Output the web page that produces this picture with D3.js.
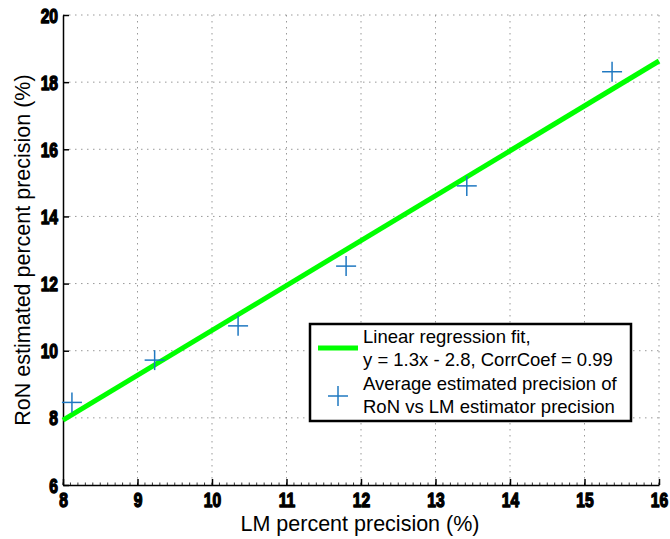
<!DOCTYPE html>
<html><head><meta charset="utf-8">
<script src="https://cdn.jsdelivr.net/npm/d3@7"></script>
<style>
body{margin:0;background:#fff;}
</style></head>
<body><svg id="c" width="670" height="539"></svg>
<script>
const lmPrecision = [8.12, 9.23, 10.35, 11.80, 13.42, 15.37];
const ronPrecision = [8.46, 9.72, 10.74, 12.52, 14.91, 18.31];
const fitX = [8, 16];
const fitY = [7.93, 18.63];
const xTicks = [8, 9, 10, 11, 12, 13, 14, 15, 16];
const yTicks = [6, 8, 10, 12, 14, 16, 18, 20];
const legendLabels = [["Linear regression fit,", "y = 1.3x - 2.8, CorrCoef = 0.99"],
                      ["Average estimated precision of", "RoN vs LM estimator precision"]];

const svg = d3.select("#c");
const L = 63, R = 659, T = 15, B = 485;
const x = d3.scaleLinear().domain([8, 16]).range([L, R]);
const y = d3.scaleLinear().domain([6, 20]).range([B, T]);
const tickFont = "Liberation Sans, Arial, sans-serif";
const sx = 0.8;

// grid
const grid = svg.append("g");
grid.selectAll("line.v").data(xTicks.slice(1)).join("line")
  .attr("x1", d => x(d)).attr("x2", d => x(d)).attr("y1", T).attr("y2", B)
  .attr("stroke", "#999").attr("stroke-dasharray", "1.5,4.5").attr("stroke-width", 1);
grid.selectAll("line.h").data(yTicks.slice(1)).join("line")
  .attr("y1", d => y(d)).attr("y2", d => y(d)).attr("x1", L).attr("x2", R)
  .attr("stroke", "#999").attr("stroke-dasharray", "1.5,4.5").attr("stroke-width", 1);

// minor ticks on x axis
const minor = d3.range(8, 16.001, 0.1);
svg.append("g").selectAll("line").data(minor).join("line")
  .attr("x1", d => x(d)).attr("x2", d => x(d)).attr("y1", B).attr("y2", B - 2.5)
  .attr("stroke", "#000").attr("stroke-width", 0.8);

// axes
const xAxis = d3.axisBottom(x).tickValues(xTicks).tickFormat(d3.format("d")).tickSizeInner(-6).tickSizeOuter(0);
const gx = svg.append("g").attr("transform", `translate(0,${B})`).call(xAxis);
const yAxis = d3.axisLeft(y).tickValues(yTicks).tickFormat(d3.format("d")).tickSizeInner(-6).tickSizeOuter(0);
const gy = svg.append("g").attr("transform", `translate(${L},0)`).call(yAxis);
[gx, gy].forEach(g => {
  g.select(".domain").attr("stroke", "#000").attr("stroke-width", 1.5);
  g.selectAll(".tick line").attr("stroke", "#000").attr("stroke-width", 1.5);
  g.selectAll(".tick text").attr("font-size", 19.5).attr("fill", "#000")
    .attr("font-family", tickFont).attr("font-weight", "bold")
    .attr("stroke", "#000").attr("stroke-width", 1.4).attr("stroke-linejoin", "round");
});
gx.selectAll(".tick text").attr("x", 0).attr("y", 22).attr("dy", null)
  .attr("transform", `scale(${sx},1)`);
gy.selectAll(".tick text").attr("x", -5 / sx).attr("dy", "0.36em")
  .attr("transform", `scale(${sx},1)`);

// fit line
svg.append("path").datum(fitX.map((d, i) => [d, fitY[i]]))
  .attr("d", d3.line().x(d => x(d[0])).y(d => y(d[1])))
  .attr("stroke", "#00ff00").attr("stroke-width", 5).attr("fill", "none");

// markers
const blue = "#1f78c1";
const ms = 10;
const pts = svg.append("g").selectAll("g").data(lmPrecision.map((d, i) => [d, ronPrecision[i]])).join("g")
  .attr("transform", d => `translate(${x(d[0])},${y(d[1])})`);
pts.append("line").attr("x1", -ms).attr("x2", ms).attr("stroke", blue).attr("stroke-width", 1.5);
pts.append("line").attr("y1", -ms).attr("y2", ms).attr("stroke", blue).attr("stroke-width", 1.5);

// axis labels
svg.append("text").attr("x", 360).attr("y", 531).attr("text-anchor", "middle")
  .attr("font-family", "Liberation Sans, Arial, sans-serif").attr("font-size", 21.5).text("LM percent precision (%)");
svg.append("text").attr("transform", `translate(30,${(T + B) / 2}) rotate(-90)`).attr("text-anchor", "middle")
  .attr("font-family", "Liberation Sans, Arial, sans-serif").attr("font-size", 21.5).text("RoN estimated percent precision (%)");

// legend
const lg = svg.append("g");
lg.append("rect").attr("x", 310).attr("y", 324).attr("width", 321).attr("height", 97)
  .attr("fill", "#fff").attr("stroke", "#000").attr("stroke-width", 2.5);
lg.append("line").attr("x1", 318).attr("x2", 358).attr("y1", 348).attr("y2", 348)
  .attr("stroke", "#00ff00").attr("stroke-width", 5);
lg.append("line").attr("x1", 328).attr("x2", 348).attr("y1", 396).attr("y2", 396).attr("stroke", blue).attr("stroke-width", 1.5);
lg.append("line").attr("x1", 338).attr("x2", 338).attr("y1", 386).attr("y2", 406).attr("stroke", blue).attr("stroke-width", 1.5);
const baselines = [[343, 366], [390, 413]];
legendLabels.forEach((pair, i) => pair.forEach((t, j) => {
  lg.append("text").attr("x", 363).attr("y", baselines[i][j])
    .attr("font-family", "Liberation Sans, Arial, sans-serif").attr("font-size", 18.5).text(t);
}));
</script></body></html>
